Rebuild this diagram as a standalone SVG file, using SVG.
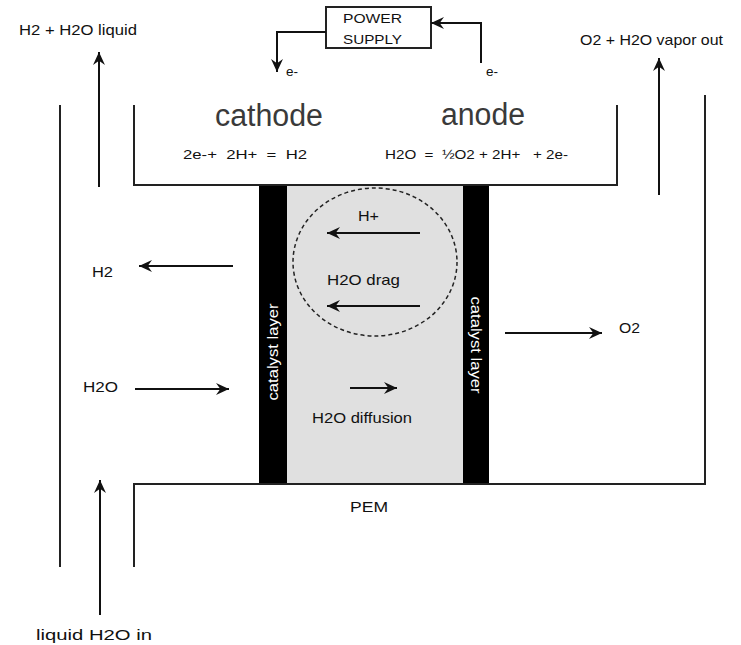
<svg xmlns="http://www.w3.org/2000/svg" width="741" height="645" viewBox="0 0 741 645">
<style>
  .ln{fill:none;stroke:#222;stroke-width:2}
  .ar{fill:none;stroke:#111;stroke-width:2;marker-end:url(#ah)}
  .t{font-family:"Liberation Sans",Arial,sans-serif;fill:#111}
  .big{font-size:31px;fill:#3a3a3a}
  .eq{font-size:12px;white-space:pre}
  .lb{font-size:15px}
  .sm{font-size:13px}
  .cat{font-family:"Liberation Sans",Arial,sans-serif;font-size:15px;fill:#fff;text-anchor:middle}
</style>
<defs>
  <marker id="ah" viewBox="0 0 12 12" markerWidth="13" markerHeight="13" refX="12" refY="6" orient="auto" markerUnits="userSpaceOnUse">
    <path d="M0,0.5 L12,6 L0,11.5 L4,6 z" fill="#111"/>
  </marker>
</defs>
<rect width="741" height="645" fill="#fff"/>

<g id="power-supply">
  <rect x="326" y="7" width="105" height="41" fill="#fff" stroke="#222" stroke-width="2"/>
  <text class="t sm" x="343" y="23" textLength="59" lengthAdjust="spacingAndGlyphs">POWER</text>
  <text class="t sm" x="343" y="44" textLength="59" lengthAdjust="spacingAndGlyphs">SUPPLY</text>
</g>

<g id="cathode-chamber">
  <path class="ln" d="M134,105 V185 H260"/>
  <path class="ln" d="M260,484 H134 V567"/>
  <path class="ln" d="M60,105 V567"/>
  <text class="t big" x="215" y="126" textLength="108" lengthAdjust="spacingAndGlyphs">cathode</text>
  <text class="t eq" x="183" y="159" textLength="124" lengthAdjust="spacingAndGlyphs">2e-+  2H+  =  H2</text>
</g>

<g id="anode-chamber">
  <path class="ln" d="M489,185 H617 V105"/>
  <path class="ln" d="M489,484 H705 V95"/>
  <text class="t big" x="441" y="125" textLength="84" lengthAdjust="spacingAndGlyphs">anode</text>
  <text class="t eq" x="385" y="159" textLength="183" lengthAdjust="spacingAndGlyphs">H2O  =  ½O2 + 2H+   + 2e-</text>
</g>

<g id="membrane">
  <rect x="287" y="185" width="176" height="299" fill="#e0e0e0"/>
  <rect x="259" y="185" width="28" height="299" fill="#000"/>
  <rect x="463" y="185" width="26" height="299" fill="#000"/>
  <path class="ln" d="M259,185 H489 M259,484 H489"/>
  <text class="cat" transform="translate(278,352) rotate(-90)" textLength="97" lengthAdjust="spacingAndGlyphs">catalyst layer</text>
  <text class="cat" transform="translate(471,345) rotate(90)" textLength="97" lengthAdjust="spacingAndGlyphs">catalyst layer</text>
  <ellipse cx="375" cy="262" rx="82" ry="74" fill="none" stroke="#222" stroke-width="1.5" stroke-dasharray="4 3"/>
  <text class="t lb" x="358" y="221" textLength="21" lengthAdjust="spacingAndGlyphs">H+</text>
  <text class="t lb" x="327" y="285" textLength="73" lengthAdjust="spacingAndGlyphs">H2O drag</text>
  <text class="t lb" x="312" y="423" textLength="100" lengthAdjust="spacingAndGlyphs">H2O diffusion</text>
  <text class="t lb" x="350" y="512" textLength="38" lengthAdjust="spacingAndGlyphs">PEM</text>
</g>

<g id="labels">
  <text class="t lb" x="19" y="35" textLength="118" lengthAdjust="spacingAndGlyphs">H2 + H2O liquid</text>
  <text class="t lb" x="580" y="45" textLength="143" lengthAdjust="spacingAndGlyphs">O2 + H2O vapor out</text>
  <text class="t lb" x="92" y="277" textLength="21" lengthAdjust="spacingAndGlyphs">H2</text>
  <text class="t lb" x="83" y="392" textLength="35" lengthAdjust="spacingAndGlyphs">H2O</text>
  <text class="t lb" x="619" y="333" textLength="21" lengthAdjust="spacingAndGlyphs">O2</text>
  <text class="t lb" x="36" y="640" textLength="116" lengthAdjust="spacingAndGlyphs">liquid H2O in</text>
  <text class="t" font-size="12" x="286" y="76" textLength="12" lengthAdjust="spacingAndGlyphs">e-</text>
  <text class="t" font-size="12" x="486" y="76" textLength="12" lengthAdjust="spacingAndGlyphs">e-</text>
</g>

<g id="connectors">
  <path class="ar" d="M326,32 H277 V72"/>
  <path class="ar" d="M481,63 V23 H431"/>
  <path class="ar" d="M99,187 V52"/>
  <path class="ar" d="M659,195 V58"/>
  <path class="ar" d="M233,266 H139"/>
  <path class="ar" d="M135,389 H229"/>
  <path class="ar" d="M100,615 V480"/>
  <path class="ar" d="M505,333 H602"/>
  <path class="ar" d="M420,233 H327"/>
  <path class="ar" d="M420,306 H327"/>
  <path class="ar" d="M350,388 H397"/>
</g>
</svg>
